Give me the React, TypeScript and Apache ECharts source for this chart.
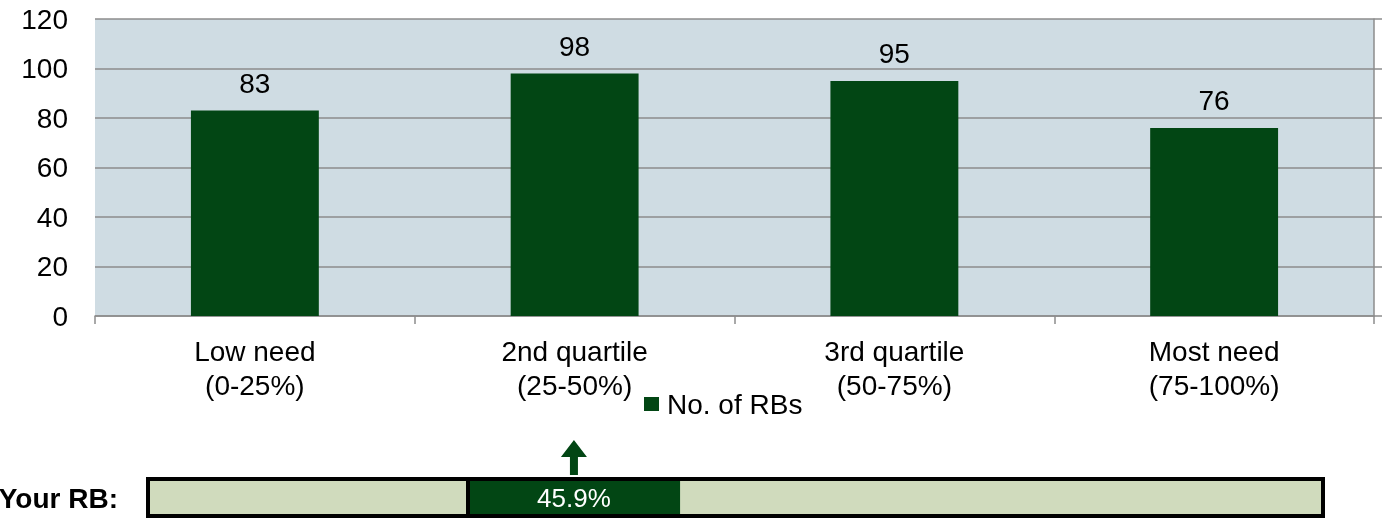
import React, { useEffect, useRef } from "react";
import * as echarts from "echarts";

const categories = ["Low need\n(0-25%)", "2nd quartile\n(25-50%)", "3rd quartile\n(50-75%)", "Most need\n(75-100%)"];
const rbCounts = [83, 98, 95, 76];
const seriesName = "No. of RBs";
const yourRbLabel = "Your RB:";
const yourRbValue = "45.9%";
// horizontal indicator segments (percent of bar width): light, highlighted, light
const yourRbSegments = [27.2, 18.1, 54.7];

const GREEN = "#024614";
const LIGHT = "#D0DBBD";
const FONT = "'Liberation Sans', Arial, sans-serif";
const FS = 28;

export default function App() {
  const ref = useRef<HTMLDivElement>(null);
  useEffect(() => {
    if (!ref.current) return;
    const chart = echarts.init(ref.current, null, { renderer: "svg" });
    const option: any = {
      animation: false,
      textStyle: { fontFamily: FONT },
      legend: {
        data: [seriesName],
        left: 644,
        top: 390,
        padding: 0,
        itemWidth: 15,
        itemHeight: 14,
        icon: "rect",
        textStyle: { fontSize: FS, color: "#000", fontFamily: FONT, padding: [0, 0, 0, 3] },
      },
      grid: [
        { left: 95, right: 25, top: 19, bottom: 202, show: true, backgroundColor: "#CFDCE3", borderWidth: 0 },
        { left: 148, right: 76, top: 479, bottom: 2, show: true, backgroundColor: LIGHT, borderWidth: 0 },
      ],
      xAxis: [
        {
          type: "category",
          gridIndex: 0,
          data: categories,
          axisLine: { show: true, lineStyle: { color: "#8c8c8c", width: 1.5 } },
          axisTick: { show: true, alignWithLabel: false, length: 8, lineStyle: { color: "#8c8c8c", width: 1.5 } },
          axisLabel: { fontSize: FS, color: "#000", lineHeight: 34, margin: 18, fontFamily: FONT },
        },
        { type: "value", gridIndex: 1, min: 0, max: 100, show: false },
      ],
      yAxis: [
        {
          type: "value",
          gridIndex: 0,
          min: 0,
          max: 120,
          interval: 20,
          axisLine: { show: false },
          axisTick: { show: false },
          axisLabel: { fontSize: FS, color: "#000", margin: 27, fontFamily: FONT },
          splitLine: { show: true, lineStyle: { color: "#8c8c8c", width: 1.5 } },
        },
        {
          type: "value",
          gridIndex: 0,
          position: "right",
          min: 0,
          max: 120,
          interval: 20,
          axisLine: { show: true, lineStyle: { color: "#8c8c8c", width: 1.5 } },
          axisTick: { show: true, inside: false, length: 8, lineStyle: { color: "#8c8c8c", width: 1.5 } },
          axisLabel: { show: false },
          splitLine: { show: false },
        },
        { type: "category", gridIndex: 1, data: ["rb"], show: false },
      ],
      series: [
        {
          name: seriesName,
          type: "bar",
          xAxisIndex: 0,
          yAxisIndex: 0,
          data: rbCounts,
          barWidth: "40%",
          itemStyle: { color: GREEN },
          label: { show: true, position: "top", distance: 13, fontSize: FS, color: "#000", fontFamily: FONT },
        },
        {
          type: "bar",
          xAxisIndex: 1,
          yAxisIndex: 2,
          stack: "rb",
          barWidth: "100%",
          data: [yourRbSegments[0]],
          itemStyle: { color: LIGHT },
          silent: true,
        },
        {
          type: "bar",
          xAxisIndex: 1,
          yAxisIndex: 2,
          stack: "rb",
          barWidth: "100%",
          data: [yourRbSegments[1]],
          itemStyle: { color: GREEN },
          label: {
            show: true,
            position: "inside",
            formatter: yourRbValue,
            color: "#fff",
            fontSize: 26,
            fontFamily: FONT,
          },
          markLine: {
            silent: true,
            symbol: "none",
            label: { show: false },
            lineStyle: { color: "#000", width: 4, type: "solid" },
            data: [{ xAxis: yourRbSegments[0] }],
          },
          silent: true,
        },
        {
          type: "bar",
          xAxisIndex: 1,
          yAxisIndex: 2,
          stack: "rb",
          barWidth: "100%",
          data: [yourRbSegments[2]],
          itemStyle: { color: LIGHT },
          silent: true,
        },
      ],
    };
    chart.setOption(option);
    const mid = yourRbSegments[0] + yourRbSegments[1] / 2;
    const ax = chart.convertToPixel({ xAxisIndex: 1 }, mid) as number;
    const x0 = chart.convertToPixel({ xAxisIndex: 1 }, 0) as number;
    const x1 = chart.convertToPixel({ xAxisIndex: 1 }, 100) as number;
    chart.setOption({
      graphic: [
        {
          type: "rect",
          z: 100,
          shape: { x: x0, y: 479, width: x1 - x0, height: 518 - 2 - 479 },
          style: { fill: "none", stroke: "#000", lineWidth: 4 },
        },
        {
          type: "polygon",
          shape: {
            points: [
              [ax, 440],
              [ax + 13, 457],
              [ax + 4, 457],
              [ax + 4, 475],
              [ax - 4, 475],
              [ax - 4, 457],
              [ax - 13, 457],
            ],
          },
          style: { fill: GREEN },
        },
        {
          type: "text",
          x: 118,
          y: 498,
          style: {
            text: yourRbLabel,
            align: "right",
            verticalAlign: "middle",
            font: `bold 28px ${FONT}`,
            fill: "#000",
          },
        },
      ],
    });
    return () => chart.dispose();
  }, []);
  return <div ref={ref} style={{ position: "fixed", left: 0, top: 0, width: 1399, height: 518 }} />;
}
